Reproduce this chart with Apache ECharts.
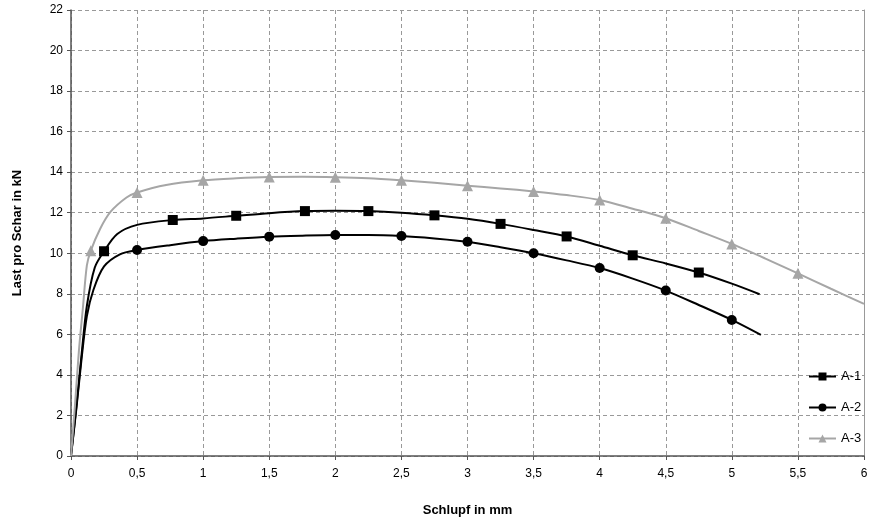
<!DOCTYPE html>
<html>
<head>
<meta charset="utf-8">
<script src="https://cdn.jsdelivr.net/npm/echarts@6/dist/echarts.min.js"></script>
<style>
  html, body { margin: 0; padding: 0; background: #fff; }
  #chart { width: 874px; height: 529px; }
</style>
</head>
<body>
<div id="chart"></div>
<script>
// curve points (Schlupf in mm / Last in kN)
const a1X = [0, 0.04, 0.08, 0.12, 0.18, 0.25, 0.35, 0.5, 0.77, 1.0, 1.25, 1.5, 1.77, 2.0, 2.25, 2.5, 2.75, 3.0, 3.25, 3.5, 3.75, 4.0, 4.25, 4.5, 4.75, 5.0, 5.21];
const a1Y = [0, 2.4, 5.0, 7.4, 9.3, 10.1, 10.95, 11.4, 11.64, 11.72, 11.85, 11.98, 12.08, 12.1, 12.08, 12.0, 11.87, 11.7, 11.45, 11.15, 10.83, 10.37, 9.9, 9.5, 9.05, 8.5, 7.98];
const a1Marks = [0.25, 0.77, 1.25, 1.77, 2.25, 2.75, 3.25, 3.75, 4.25, 4.75];

const a2X = [0, 0.04, 0.08, 0.12, 0.17, 0.25, 0.37, 0.5, 0.75, 1.0, 1.25, 1.5, 1.75, 2.0, 2.25, 2.5, 2.75, 3.0, 3.25, 3.5, 3.75, 4.0, 4.25, 4.5, 4.75, 5.0, 5.22];
const a2Y = [0, 2.3, 4.8, 6.9, 8.2, 9.35, 9.95, 10.16, 10.4, 10.6, 10.72, 10.82, 10.87, 10.9, 10.9, 10.85, 10.73, 10.57, 10.3, 10.0, 9.65, 9.27, 8.75, 8.16, 7.45, 6.71, 5.97];
const a2Marks = [0.5, 1.0, 1.5, 2.0, 2.5, 3.0, 3.5, 4.0, 4.5, 5.0];

const a3X = [0, 0.03, 0.06, 0.09, 0.12, 0.15, 0.22, 0.3, 0.42, 0.5, 0.72, 1.0, 1.25, 1.5, 1.75, 2.0, 2.25, 2.5, 2.75, 3.0, 3.25, 3.5, 3.75, 4.0, 4.25, 4.5, 4.75, 5.0, 5.25, 5.5, 5.75, 6.0];
const a3Y = [0, 2.5, 5.2, 7.3, 9.4, 10.13, 11.2, 12.05, 12.75, 13.0, 13.37, 13.6, 13.7, 13.76, 13.77, 13.75, 13.7, 13.6, 13.48, 13.33, 13.2, 13.05, 12.87, 12.63, 12.2, 11.73, 11.1, 10.46, 9.75, 9.01, 8.25, 7.5];
const a3Marks = [0.15, 0.5, 1.0, 1.5, 2.0, 2.5, 3.0, 3.5, 4.0, 4.5, 5.0, 5.5];

const seriesNames = ['A-1', 'A-2', 'A-3'];

function buildData(xs, ys, marks) {
  return xs.map((x, i) => {
    const item = { value: [x, ys[i]] };
    if (!marks.includes(x)) item.symbol = 'none';
    return item;
  });
}

const fmt = (v) => String(v).replace('.', ',');
const font = 'Liberation Sans, Arial, sans-serif';

const chart = echarts.init(document.getElementById('chart'));

const option = {
  animation: false,
  grid: { left: 71, right: 10, top: 10, bottom: 73 },
  legend: {
    orient: 'vertical',
    left: 803,
    top: 365,
    itemWidth: 27,
    itemHeight: 10,
    itemGap: 18,
    textStyle: { fontFamily: font, fontSize: 13, color: '#000' },
    data: seriesNames
  },
  xAxis: {
    type: 'value',
    min: 0,
    max: 6,
    interval: 0.5,
    name: 'Schlupf in mm',
    nameLocation: 'middle',
    nameGap: 48,
    nameTextStyle: { fontFamily: font, fontSize: 13, fontWeight: 'bold', color: '#000' },
    axisLine: { lineStyle: { color: '#555', width: 1.5 } },
    axisTick: { show: true, length: 4, lineStyle: { color: '#555' } },
    axisLabel: { formatter: fmt, fontFamily: font, fontSize: 12, color: '#000', margin: 12 },
    splitLine: { show: true, lineStyle: { color: '#999', type: [4, 3], width: 1 } }
  },
  yAxis: [{
    type: 'value',
    min: 0,
    max: 22,
    interval: 2,
    name: 'Last pro Schar in kN',
    nameLocation: 'middle',
    nameGap: 47,
    nameTextStyle: { fontFamily: font, fontSize: 13, fontWeight: 'bold', color: '#000' },
    axisLine: { show: true, lineStyle: { color: '#555', width: 1.5 } },
    axisTick: { show: true, length: 4, lineStyle: { color: '#555' } },
    axisLabel: { fontFamily: font, fontSize: 12, color: '#000', margin: 8 },
    splitLine: { show: true, lineStyle: { color: '#999', type: [4, 3], width: 1 } }
  }, {
    type: 'value',
    position: 'right',
    min: 0,
    max: 22,
    interval: 2,
    axisLine: { show: true, lineStyle: { color: '#999', width: 1 } },
    axisTick: { show: false },
    axisLabel: { show: false },
    splitLine: { show: false }
  }],
  series: [
    {
      name: 'A-1',
      type: 'line',
      smooth: 0.3,
      symbol: 'rect',
      symbolSize: 10,
      showAllSymbol: true,
      color: '#000',
      lineStyle: { width: 2, color: '#000' },
      data: buildData(a1X, a1Y, a1Marks)
    },
    {
      name: 'A-2',
      type: 'line',
      smooth: 0.3,
      symbol: 'circle',
      symbolSize: 10,
      showAllSymbol: true,
      color: '#000',
      lineStyle: { width: 2, color: '#000' },
      data: buildData(a2X, a2Y, a2Marks)
    },
    {
      name: 'A-3',
      type: 'line',
      smooth: 0.3,
      symbol: 'triangle',
      symbolSize: 11,
      showAllSymbol: true,
      color: '#a6a6a6',
      lineStyle: { width: 2, color: '#a6a6a6' },
      data: buildData(a3X, a3Y, a3Marks)
    }
  ]
};

chart.setOption(option);
</script>
</body>
</html>
